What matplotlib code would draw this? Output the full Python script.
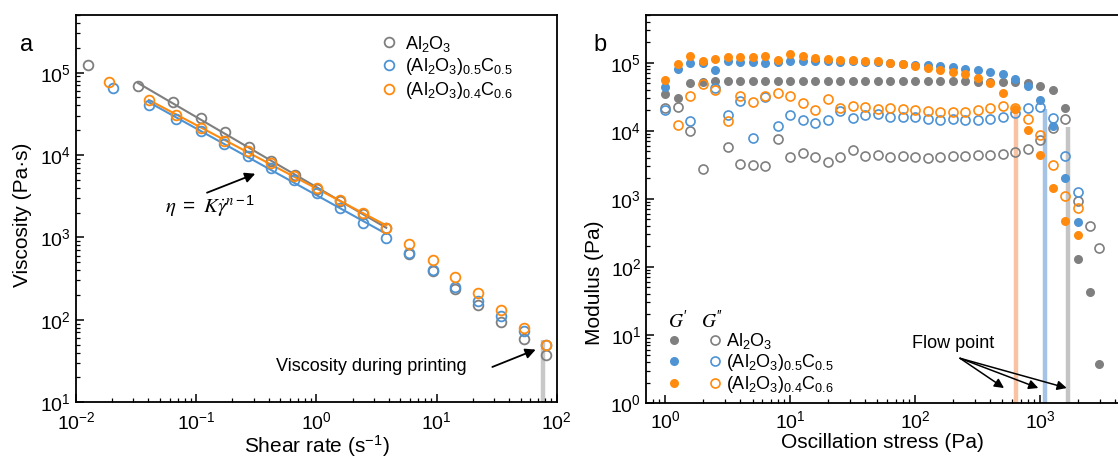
import matplotlib
matplotlib.use("Agg")
import matplotlib.pyplot as plt
import numpy as np
from matplotlib.legend_handler import HandlerTuple

plt.rcParams["font.family"] = ["Liberation Sans", "DejaVu Sans"]
plt.rcParams["mathtext.fontset"] = "stix"
plt.rcParams["mathtext.default"] = "regular"

GRAY = "#7f7f7f"
BLUE = "#4e93d3"
ORANGE = "#ff8a0d"

LABELS = ["Al$_2$O$_3$", "(Al$_2$O$_3$)$_{0.5}$C$_{0.5}$", "(Al$_2$O$_3$)$_{0.4}$C$_{0.6}$"]

# ---- panel a: viscosity vs shear rate ----
rate_al = [0.0127, 0.0327, 0.0647, 0.109, 0.174, 0.273, 0.419, 0.658, 1.02, 1.585,
           2.45, 3.81, 5.88, 9.26, 14.1, 22.3, 34.1, 53.4, 82.1]
visc_al = [1.25e5, 6.95e4, 4.37e4, 2.82e4, 1.89e4, 1.25e4, 8.44e3, 5.66e3, 3.84e3, 2.77e3,
           1.95e3, 1.30e3, 620, 390, 236, 153, 93.5, 58.9, 37.8]

rate_c05 = [0.0205, 0.0403, 0.068, 0.109, 0.171, 0.271, 0.419, 0.656, 1.02, 1.585,
            2.45, 3.81, 5.88, 9.26, 14.1, 22.3, 34.1, 53.4, 82.1]
visc_c05 = [6.50e4, 4.09e4, 2.77e4, 1.95e4, 1.38e4, 9.70e3, 7.00e3, 4.93e3, 3.46e3, 2.28e3,
            1.51e3, 988, 639, 405, 253, 168, 112, 72.3, 48.9]

rate_c06 = [0.0188, 0.0403, 0.068, 0.109, 0.171, 0.271, 0.419, 0.656, 1.02, 1.585,
            2.45, 3.81, 5.88, 9.26, 14.1, 22.3, 34.1, 53.4, 82.1]
visc_c06 = [7.67e4, 4.61e4, 3.04e4, 2.13e4, 1.50e4, 1.11e4, 8.05e3, 5.56e3, 3.95e3, 2.81e3,
            1.97e3, 1.30e3, 829, 526, 334, 212, 133, 79.1, 49.9]

FIT_RANGE = (0.03, 4.0)
PRINT_RATE = 76.5
PRINT_VISC = 56.0

# ---- panel b: amplitude sweep ----
stress = [1.0, 1.26, 1.58, 2.0, 2.51, 3.16, 3.98, 5.01, 6.31, 7.94,
          10.0, 12.6, 15.8, 20.0, 25.1, 31.6, 39.8, 50.1, 63.1, 79.4,
          100, 126, 158, 200, 251, 316, 398, 501, 631, 794,
          1000, 1259, 1585, 1995, 2512, 2990]
nan = np.nan
gp_al = [3.5e4, 3.03e4, 5.03e4, 5.13e4, 5.43e4, 5.3e4, 5.3e4, 5.3e4, 5.3e4, 5.3e4,
         5.3e4, 5.3e4, 5.43e4, 5.43e4, 5.43e4, 5.43e4, 5.43e4, 5.43e4, 5.43e4, 5.43e4,
         5.43e4, 5.43e4, 5.35e4, 5.3e4, 5.3e4, 5.25e4, 5.2e4, 5.14e4, 5.14e4, 5.03e4,
         4.59e4, 3.92e4, 2.15e4, 131, 42.5, 3.7]
gpp_al = [2.16e4, 2.23e4, 9.8e3, 2.76e3, nan, 5.75e3, 3.27e3, 3.09e3, 2.99e3, 7.5e3,
          4.05e3, 4.7e3, 4.1e3, 3.46e3, 4.05e3, 5.26e3, 4.2e3, 4.44e3, 4.1e3, 4.2e3,
          4.05e3, 3.96e3, 4.1e3, 4.2e3, 4.29e3, 4.34e3, 4.44e3, 4.59e3, 4.8e3, 5.43e3,
          7.2e3, 1.09e4, 1.48e4, 935, 405, 188]
gp_c05 = [4.33e4, 8.07e4, 9.9e4, 1.0e5, 7.7e4, 1.05e5, 1.02e5, 1.02e5, 9.9e4, 1.03e5,
          1.05e5, 1.05e5, 1.05e5, 1.05e5, 1.02e5, 1.05e5, 1.02e5, 1.02e5, 9.9e4, 9.7e4,
          9.35e4, 9.14e4, 8.84e4, 8.54e4, 8.17e4, 7.71e4, 7.29e4, 6.81e4, 5.75e4, 4.59e4,
          2.86e4, 1.19e4, 2.01e3, 454, nan, nan]
gpp_c05 = [1.99e4, nan, 1.37e4, nan, 4.24e4, 1.68e4, 2.76e4, 7.8e3, 3.13e4, 1.16e4,
           1.72e4, 1.42e4, 1.30e4, 1.45e4, 1.92e4, 1.54e4, 1.72e4, 1.78e4, 1.59e4, 1.62e4,
           1.59e4, 1.5e4, 1.45e4, 1.48e4, 1.42e4, 1.42e4, 1.48e4, 1.59e4, 1.82e4, 2.15e4,
           2.2e4, 1.54e4, 4.29e3, 1.28e3, nan, nan]
gp_c06 = [5.6e4, 9.7e4, 1.24e5, 1.05e5, 1.13e5, 1.21e5, 1.21e5, 1.21e5, 1.27e5, 1.11e5,
          1.34e5, 1.24e5, 1.17e5, 1.13e5, 1.11e5, 1.09e5, 1.05e5, 1.05e5, 9.9e4, 9.56e4,
          9.04e4, 8.35e4, 7.89e4, 7.29e4, 6.81e4, 5.95e4, 5.03e4, 3.58e4, 2.08e4, 1.03e4,
          4.44e3, 1.44e3, 475, 296, nan, nan]
gpp_c06 = [nan, 1.22e4, 3.2e4, 4.91e4, 3.92e4, 1.37e4, 3.2e4, 2.64e4, 3.27e4, 3.58e4,
           3.27e4, 2.55e4, 1.99e4, 2.92e4, 2.16e4, 2.33e4, 2.2e4, 2.11e4, 2.15e4, 2.11e4,
           1.99e4, 1.92e4, 1.86e4, 1.86e4, 1.88e4, 1.99e4, 2.15e4, 2.28e4, 2.15e4, 1.5e4,
           8.73e3, 3.09e3, 1.11e3, 729, nan, nan]

# flow points (stress, modulus at crossover) and where the arrows end
flow_stress = [643, 1096, 1675]
flow_modulus = [2.18e4, 2.11e4, 1.15e4]
flow_arrow_x = [515, 969, 1636]
flow_colors = ["#f9c3a3", "#a5c3e4", "#c4c4c4"]


def style_axis(axis, xpad=5):
    axis.set_xscale("log")
    axis.set_yscale("log")
    axis.tick_params(which="both", direction="in", labelsize=14, top=False, right=False)
    axis.tick_params(which="major", length=6, width=1.1)
    axis.tick_params(which="minor", length=3, width=0.9)
    axis.tick_params(axis="x", which="both", pad=xpad)
    for spine in axis.spines.values():
        spine.set_linewidth(1.3)


def plot_viscosity(axis):
    series = [
        (rate_al, visc_al, GRAY, LABELS[0]),
        (rate_c05, visc_c05, BLUE, LABELS[1]),
        (rate_c06, visc_c06, ORANGE, LABELS[2]),
    ]
    axis.plot([PRINT_RATE, PRINT_RATE], [10, PRINT_VISC], color="#c8c8c8", lw=3.2,
              solid_capstyle="butt", zorder=1)
    for rate, visc, color, label in series:
        rate = np.asarray(rate)
        visc = np.asarray(visc)
        axis.plot(rate, visc, "o", mfc="none", mec=color, ms=7, mew=1.3, label=label, zorder=3)
        mask = (rate > FIT_RANGE[0]) & (rate < FIT_RANGE[1])
        slope, icpt = np.polyfit(np.log10(rate[mask]), np.log10(visc[mask]), 1)
        xs = np.array([rate[mask].min(), rate[mask].max()])
        axis.plot(xs, 10 ** (icpt + slope * np.log10(xs)), color=color, lw=1.5, zorder=2)
    style_axis(axis, xpad=6.5)
    axis.set_xlim(0.01, 100)
    axis.set_ylim(10, 5e5)
    axis.set_xlabel("Shear rate (s$^{-1}$)", fontsize=15, labelpad=0)
    axis.set_ylabel("Viscosity (Pa·s)", fontsize=15)
    axis.yaxis.set_label_coords(-0.092, 0.483)
    axis.legend(loc="upper left", bbox_to_anchor=(0.61, 0.985), frameon=False, fontsize=13,
                handlelength=0.8, handletextpad=0.5, labelspacing=0.15, borderpad=0.2)
    axis.text(0.13, 2380, r"$\mathit{\eta}\ =\ \mathit{K}\dot{\mathit{\gamma}}^{\mathit{n}-1}$",
              fontsize=15, ha="center", va="center")
    axis.annotate("", xy=(0.31, 5930), xytext=(0.123, 3490),
                  arrowprops=dict(arrowstyle="-|>", color="black", lw=1.3, mutation_scale=15,
                                  shrinkA=0, shrinkB=0))
    axis.text(0.464, 26.7, "Viscosity during printing", fontsize=13, ha="left", va="center")
    axis.annotate("", xy=(66.8, 43.4), xytext=(29.1, 26.7),
                  arrowprops=dict(arrowstyle="-|>", color="black", lw=1.3, mutation_scale=15,
                                  shrinkA=0, shrinkB=0))
    axis.text(-0.102, 0.922, "a", transform=axis.transAxes, fontsize=17, ha="center", va="center")


def plot_modulus(axis):
    for fs, fm, fc in zip(flow_stress, flow_modulus, flow_colors):
        axis.plot([fs, fs], [1, fm], color=fc, lw=3.2, solid_capstyle="butt", zorder=1)
    handles = []
    for gp, gpp, color in [(gp_al, gpp_al, GRAY), (gp_c05, gpp_c05, BLUE), (gp_c06, gpp_c06, ORANGE)]:
        h1, = axis.plot(stress, gp, "o", color=color, ms=6.5, mec="none", zorder=3)
        h2, = axis.plot(stress, gpp, "o", mfc="none", mec=color, ms=6.5, mew=1.2, zorder=3)
        handles.append((h1, h2))
    style_axis(axis)
    axis.spines["right"].set_visible(False)
    axis.set_xlim(0.705, 4207)
    axis.set_ylim(1, 5e5)
    axis.set_xlabel("Oscillation stress (Pa)", fontsize=15, labelpad=1)
    axis.set_ylabel("Modulus (Pa)", fontsize=15)
    axis.yaxis.set_label_coords(-0.089, 0.31)
    axis.legend(handles, LABELS, handler_map={tuple: HandlerTuple(ndivide=None, pad=1.7)},
                loc="lower left", bbox_to_anchor=(0.02, -0.012), frameon=False, fontsize=13,
                handlelength=2.9, handletextpad=0.3, labelspacing=0.05, borderpad=0.2)
    axis.text(0.066, 0.214, r"$\mathit{G}'$", transform=axis.transAxes, fontsize=14,
              ha="center", va="center")
    axis.text(0.14, 0.214, r"$\mathit{G}''$", transform=axis.transAxes, fontsize=14,
              ha="center", va="center")
    axis.text(201, 7.6, "Flow point", fontsize=13, ha="center", va="center")
    for head in flow_arrow_x:
        axis.annotate("", xy=(head, 1.66), xytext=(229, 4.54),
                      arrowprops=dict(arrowstyle="-|>", color="black", lw=1.1, mutation_scale=14,
                                      shrinkA=0, shrinkB=0))
    axis.text(-0.097, 0.923, "b", transform=axis.transAxes, fontsize=17, ha="center", va="center")


fig = plt.figure(figsize=(11.18, 4.59), dpi=100)
ax_a = fig.add_axes([0.068, 0.124, 0.430, 0.843])
ax_b = fig.add_axes([0.578, 0.122, 0.422, 0.845])
plot_viscosity(ax_a)
plot_modulus(ax_b)
fig.savefig("out.png", dpi=100)
